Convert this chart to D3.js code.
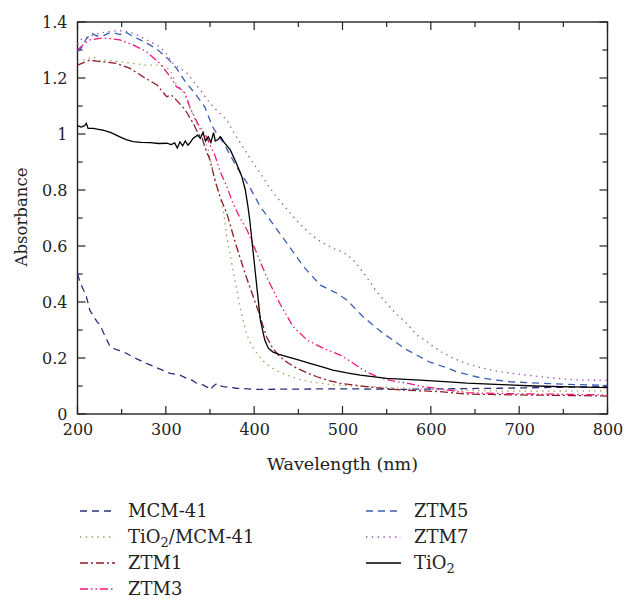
<!DOCTYPE html>
<html><head><meta charset="utf-8">
<script src="https://cdn.jsdelivr.net/npm/d3@7"></script>
<style>body{margin:0;background:#fff}svg{display:block}</style>
</head><body><svg id="c" width="624" height="599"></svg>
<script>
const xTicks = [200,300,400,500,600,700,800];
const yTicks = [0,0.2,0.4,0.6,0.8,1,1.2,1.4];
const seriesNames = ["MCM-41","TiO2/MCM-41","ZTM1","ZTM3","ZTM5","ZTM7","TiO2"];

const mcm41 = [[200,0.50],[203,0.47],[210,0.42],[214,0.37],[218,0.35],[222,0.33],[225,0.32],[231,0.28],[237,0.24],[244,0.23],[252,0.222],[265,0.20],[278,0.181],[292,0.162],[305,0.145],[316,0.139],[324,0.127],[330,0.12],[335,0.11],[342,0.104],[347,0.095],[350,0.086],[354,0.10],[358,0.11],[362,0.10],[365,0.098],[380,0.092],[403,0.088],[450,0.089],[500,0.09],[565,0.088],[620,0.09],[678,0.092],[740,0.095],[800,0.098]];
const tio2mcm = [[200,1.26],[208,1.265],[218,1.276],[225,1.26],[233,1.264],[248,1.258],[263,1.252],[278,1.246],[293,1.246],[300,1.238],[305,1.229],[312,1.175],[318,1.16],[322,1.133],[327,1.097],[333,1.05],[341,1.003],[348,0.943],[354,0.86],[359,0.80],[365,0.73],[369,0.633],[376,0.514],[384,0.383],[391,0.288],[397,0.245],[403,0.217],[410,0.19],[418,0.169],[427,0.152],[437,0.139],[450,0.125],[463,0.115],[489,0.104],[527,0.098],[565,0.093],[618,0.086],[680,0.082],[740,0.082],[800,0.083]];
const ztm1 = [[200,1.246],[207,1.255],[214,1.264],[222,1.26],[229,1.258],[244,1.252],[259,1.235],[274,1.205],[290,1.175],[301,1.133],[306,1.14],[312,1.121],[322,1.086],[331,1.038],[337,1.0],[341,0.986],[344,0.955],[350,0.907],[356,0.83],[362,0.77],[369,0.717],[380,0.598],[391,0.49],[403,0.383],[414,0.276],[421,0.235],[429,0.205],[438,0.183],[448,0.164],[460,0.147],[471,0.133],[484,0.12],[497,0.11],[527,0.098],[565,0.086],[610,0.08],[641,0.071],[700,0.068],[760,0.066],[800,0.064]];
const ztm3 = [[200,1.30],[207,1.32],[214,1.336],[222,1.34],[229,1.343],[238,1.34],[248,1.336],[263,1.318],[278,1.294],[293,1.253],[305,1.205],[312,1.169],[317,1.16],[322,1.146],[327,1.097],[336,1.038],[346,0.99],[351,0.955],[356,0.92],[361,0.87],[368,0.82],[376,0.753],[384,0.70],[392,0.657],[403,0.574],[414,0.49],[429,0.395],[444,0.312],[460,0.264],[478,0.235],[497,0.211],[508,0.19],[520,0.164],[531,0.145],[543,0.128],[557,0.118],[573,0.11],[590,0.098],[603,0.093],[620,0.085],[641,0.076],[700,0.072],[760,0.07],[800,0.068]];
const ztm5 = [[200,1.294],[205,1.31],[210,1.34],[216,1.36],[222,1.35],[229,1.35],[235,1.36],[242,1.36],[248,1.355],[254,1.365],[262,1.35],[271,1.336],[281,1.32],[291,1.30],[302,1.27],[312,1.235],[322,1.187],[333,1.145],[344,1.097],[353,1.026],[358,1.0],[365,0.97],[372,0.93],[380,0.883],[395,0.81],[407,0.74],[418,0.693],[437,0.61],[456,0.526],[475,0.46],[493,0.432],[505,0.407],[523,0.348],[546,0.288],[573,0.229],[599,0.185],[619,0.164],[629,0.151],[658,0.128],[690,0.115],[724,0.11],[754,0.106],[800,0.102]];
const ztm7 = [[200,1.32],[203,1.336],[210,1.345],[218,1.354],[225,1.36],[233,1.365],[243,1.368],[252,1.369],[260,1.362],[267,1.354],[282,1.33],[293,1.312],[300,1.29],[308,1.252],[316,1.235],[324,1.217],[339,1.157],[350,1.11],[359,1.08],[369,1.05],[376,1.01],[387,0.955],[397,0.905],[407,0.86],[416,0.815],[425,0.776],[435,0.74],[444,0.705],[453,0.675],[463,0.645],[472,0.622],[482,0.603],[491,0.59],[500,0.58],[506,0.566],[512,0.55],[520,0.52],[527,0.49],[538,0.44],[550,0.395],[561,0.357],[573,0.323],[584,0.282],[595,0.26],[603,0.24],[614,0.218],[625,0.2],[638,0.183],[652,0.169],[678,0.151],[708,0.139],[742,0.127],[769,0.121],[800,0.12]];
const tio2 = [[200,1.03],[204,1.025],[208,1.03],[210,1.038],[212,1.02],[218,1.02],[225,1.016],[229,1.014],[238,1.005],[248,0.99],[255,0.98],[263,0.973],[272,0.97],[282,0.969],[292,0.966],[301,0.967],[306,0.962],[310,0.968],[313,0.95],[316,0.972],[319,0.958],[322,0.975],[325,0.96],[327,0.967],[331,0.985],[336,0.996],[339,0.985],[342,1.005],[345,0.975],[348,0.99],[351,0.97],[354,1.005],[356,0.975],[359,0.98],[362,0.99],[366,0.97],[373,0.943],[380,0.895],[386,0.848],[390,0.8],[393,0.74],[395,0.693],[399,0.574],[403,0.455],[407,0.336],[412,0.264],[416,0.235],[421,0.222],[428,0.213],[437,0.205],[450,0.193],[463,0.181],[476,0.169],[489,0.157],[505,0.147],[520,0.139],[550,0.127],[588,0.121],[620,0.115],[641,0.11],[680,0.105],[717,0.1],[760,0.097],[800,0.094]];

const seriesData = [mcm41, tio2mcm, ztm1, ztm3, ztm5, ztm7, tio2];
const colors = ["#2a2f7d","#9a9a60","#8e1d25","#f0167e","#3a5eb3","#9b4fae","#000000"];
const dashes = ["7,5","1.4,4.4","8,3,2,3","8,3,1.5,3,1.5,3","7,5","1.4,4.4",null];

const SERIF = "DejaVu Serif";
const svg = d3.select("#c");
const L = 77.5, R = 607.5, T = 22, B = 414;
const x = d3.scaleLinear().domain([200,800]).range([L,R]);
const y = d3.scaleLinear().domain([0,1.4]).range([B,T]);

svg.append("rect").attr("x",L).attr("y",T).attr("width",R-L).attr("height",B-T)
  .attr("fill","none").attr("stroke","#222").attr("stroke-width",1.4);

const xMinor = d3.range(200,801,50), yMinor = d3.range(0,1.41,0.1);
const tg = svg.append("g").attr("stroke","#222").attr("stroke-width",1.2);
xMinor.forEach(v=>{
  const big = Math.abs(v%100)<1e-6; const len = big?8:5;
  tg.append("line").attr("x1",x(v)).attr("x2",x(v)).attr("y1",B).attr("y2",B-len);
  tg.append("line").attr("x1",x(v)).attr("x2",x(v)).attr("y1",T).attr("y2",T+len);
});
yMinor.forEach(v=>{
  const big = Math.abs(Math.round(v*10)%2)<1e-6; const len = big?8:5;
  tg.append("line").attr("y1",y(v)).attr("y2",y(v)).attr("x1",L).attr("x2",L+len);
  tg.append("line").attr("y1",y(v)).attr("y2",y(v)).attr("x1",R).attr("x2",R-len);
});

const xa = svg.append("g").attr("transform",`translate(0,${B})`)
  .call(d3.axisBottom(x).tickValues(xTicks).tickSize(0).tickPadding(10).tickFormat(d3.format("d")));
xa.select(".domain").remove();
xa.attr("font-family", SERIF).attr("font-size",16);
const ya = svg.append("g").attr("transform",`translate(${L},0)`)
  .call(d3.axisLeft(y).tickValues(yTicks).tickSize(0).tickPadding(10).tickFormat(d=>d3.format("~g")(d)));
ya.select(".domain").remove();
ya.attr("font-family", SERIF).attr("font-size",16);
svg.selectAll(".tick text").attr("fill","#222");

svg.append("text").attr("x",(L+R)/2).attr("y",470).attr("text-anchor","middle").attr("font-size",17.5).attr("fill","#222").attr("font-family",SERIF).text("Wavelength (nm)");
svg.append("text").attr("transform","translate(27,217) rotate(-90)").attr("text-anchor","middle").attr("font-size",16.5).attr("fill","#222").attr("font-family",SERIF).text("Absorbance");

const line = d3.line().x(d=>x(d[0])).y(d=>y(d[1]));
const plot = svg.append("g");
seriesData.forEach((s,i)=>{
  plot.append("path").datum(s).attr("d",line).attr("fill","none")
    .attr("stroke",colors[i]).attr("stroke-width",1.3)
    .attr("stroke-dasharray",dashes[i]);
});

const legPos = [[80,511],[80,537],[80,563],[80,589],[366,511],[366,537],[366,563]];
seriesNames.forEach((n,i)=>{
  const [lx,ly] = legPos[i];
  svg.append("line").attr("x1",lx).attr("x2",lx+35).attr("y1",ly).attr("y2",ly)
    .attr("stroke",colors[i]).attr("stroke-width",1.4).attr("stroke-dasharray",dashes[i]);
  const t = svg.append("text").attr("x",lx+48).attr("y",ly+6).attr("font-size",18).attr("fill","#222").attr("font-family",SERIF);
  const m = n.match(/^(.*?O)2(.*)$/);
  if (m) {
    t.append("tspan").text(m[1]);
    t.append("tspan").attr("dy",4).attr("font-size",13).text("2");
    t.append("tspan").attr("dy",-4).text(m[2]);
  } else t.text(n);
});
</script></body></html>
